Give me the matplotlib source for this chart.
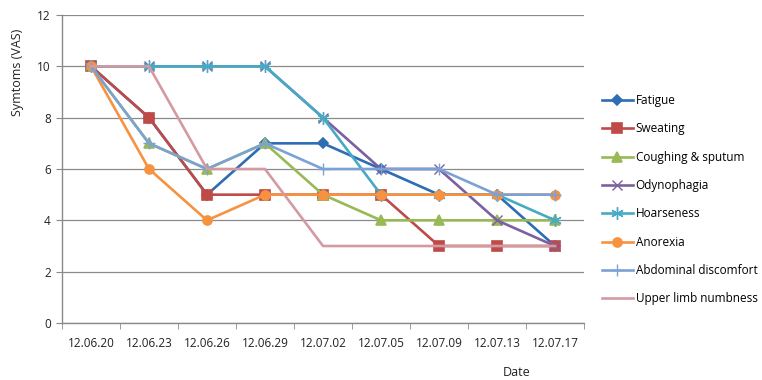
import numpy as np
import matplotlib.pyplot as plt

plt.rcParams['font.family'] = ['Open Sans', 'DejaVu Sans']

# visit dates and symptom scores (VAS)
dates = ['12.06.20', '12.06.23', '12.06.26', '12.06.29', '12.07.02',
         '12.07.05', '12.07.09', '12.07.13', '12.07.17']

fatigue = [10, 8, 5, 7, 7, 6, 5, 5, 3]
sweating = [10, 8, 5, 5, 5, 5, 3, 3, 3]
coughing = [10, 7, 6, 7, 5, 4, 4, 4, 4]
odynophagia = [10, 10, 10, 10, 8, 6, 6, 4, 3]
hoarseness = [10, 10, 10, 10, 8, 5, 5, 5, 4]
anorexia = [10, 6, 4, 5, 5, 5, 5, 5, 5]
abdominal = [10, 7, 6, 7, 6, 6, 6, 5, 5]
numbness = [10, 10, 6, 6, 3, 3, 3, 3, 3]

# name, values, colour, marker, marker size, marker edge width
series = [
    ('Fatigue', fatigue, '#2E6DB4', 'D', 5, 1.2),
    ('Sweating', sweating, '#BE4B48', 's', 6.5, 1.2),
    ('Coughing & sputum', coughing, '#98B954', '^', 6.5, 1.2),
    ('Odynophagia', odynophagia, '#7D60A0', 'x', 7, 1.0),
    ('Hoarseness', hoarseness, '#46AAC5', (6, 2, 0), 9, 1.0),
    ('Anorexia', anorexia, '#F69240', 'o', 6.5, 1.2),
    ('Abdominal discomfort', abdominal, '#7CA2D4', '+', 9, 1.0),
    ('Upper limb numbness', numbness, '#D49AA2', None, 0, 0),
]

fig = plt.figure(figsize=(7.62, 3.80), dpi=100)
ax = fig.add_axes([62/762, 1 - 323/380, 522/762, 308/380])

x = np.arange(len(dates))
for name, vals, col, mk, ms, mew in series:
    ax.plot(x, vals, color=col, lw=1.9, marker=mk, markersize=ms,
            markeredgewidth=mew, label=name)

ax.set_xlim(-0.5, len(dates) - 0.5)
ax.set_ylim(0, 12)
ax.set_yticks(range(0, 13, 2))
ax.yaxis.grid(True, color='#8A8A8A', lw=0.9)
ax.set_axisbelow(True)

ax.set_xticks(x)
ax.set_xticklabels(dates, fontsize=8.5, color='#222222')
ax.set_xticks(np.arange(-0.5, len(dates)), minor=True)
ax.tick_params(axis='x', which='major', length=0, pad=10)
ax.tick_params(axis='x', which='minor', length=4, color='#8A8A8A', direction='out')
ax.tick_params(axis='y', length=4, color='#8A8A8A', labelsize=8.5,
               labelcolor='#222222', pad=4)

for s in ['top', 'right']:
    ax.spines[s].set_visible(False)
for s in ['left', 'bottom']:
    ax.spines[s].set_color('#8A8A8A')
    ax.spines[s].set_linewidth(1.0)

ax.set_ylabel('Symtoms (VAS)', fontsize=9, color='#222222')
ax.yaxis.set_label_coords(-38/522, 1 - 57/308)
fig.text(517/762, 1 - 373/380, 'Date', fontsize=9, color='#222222',
         ha='center', va='center')

fig.legend(loc='upper left', bbox_to_anchor=(602/762, 1 - 94/380),
           frameon=False, fontsize=8.5, handlelength=2.6, handletextpad=0.25,
           labelspacing=1.3, borderpad=0, borderaxespad=0)

fig.savefig('out.png', dpi=100)
